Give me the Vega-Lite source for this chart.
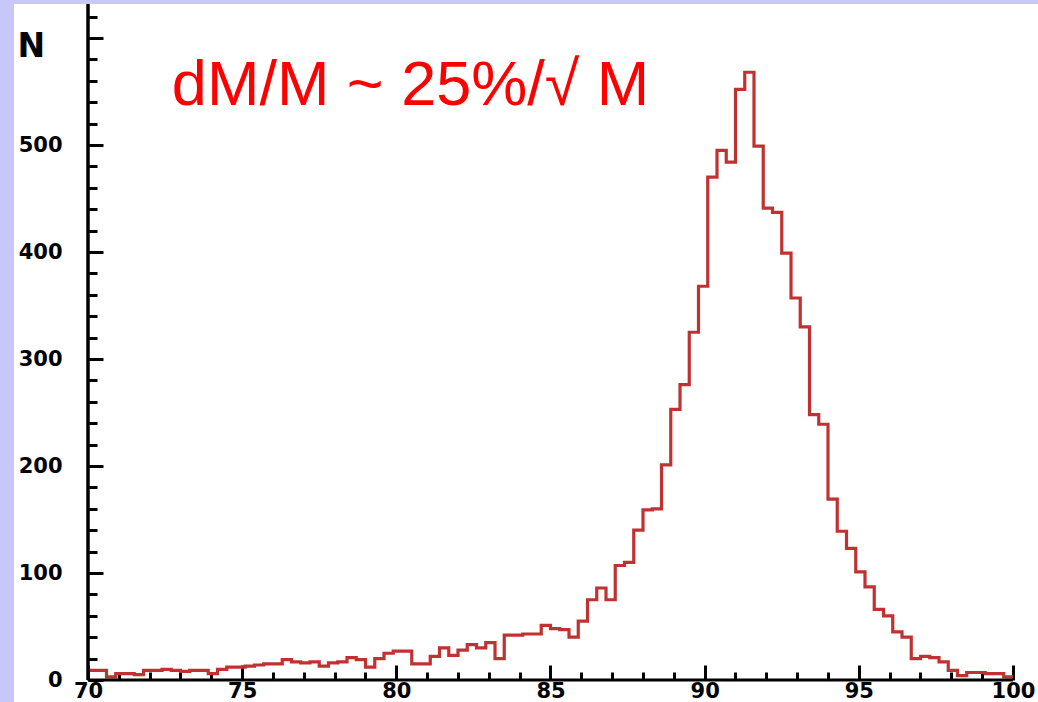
{
  "$schema": "https://vega.github.io/schema/vega-lite/v6.json",
  "width": 1024,
  "height": 698,
  "autosize": {"type": "none"},
  "padding": {"left": 14, "top": 4, "right": 0, "bottom": 0},
  "background": "#c8c8f8",
  "config": {
    "view": {"fill": "white", "stroke": null},
    "axis": {
      "domain": false,
      "grid": false,
      "tickColor": "black",
      "tickWidth": 3,
      "labelColor": "black",
      "labelFont": "DejaVu Sans",
      "labelFontWeight": "bold",
      "titleColor": "black"
    }
  },
  "data": {
    "values": [
      {"lo": 70.0, "hi": 70.3, "n": 9}, {"lo": 70.3, "hi": 70.6, "n": 9}, {"lo": 70.6, "hi": 70.9, "n": 3},
      {"lo": 70.9, "hi": 71.2, "n": 6}, {"lo": 71.2, "hi": 71.5, "n": 6}, {"lo": 71.5, "hi": 71.8, "n": 5},
      {"lo": 71.8, "hi": 72.1, "n": 9}, {"lo": 72.1, "hi": 72.4, "n": 9}, {"lo": 72.4, "hi": 72.7, "n": 10},
      {"lo": 72.7, "hi": 73.0, "n": 9}, {"lo": 73.0, "hi": 73.3, "n": 8}, {"lo": 73.3, "hi": 73.6, "n": 9},
      {"lo": 73.6, "hi": 73.9, "n": 9}, {"lo": 73.9, "hi": 74.2, "n": 6}, {"lo": 74.2, "hi": 74.5, "n": 10},
      {"lo": 74.5, "hi": 74.8, "n": 12}, {"lo": 74.8, "hi": 75.1, "n": 12}, {"lo": 75.1, "hi": 75.4, "n": 13},
      {"lo": 75.4, "hi": 75.7, "n": 14}, {"lo": 75.7, "hi": 76.0, "n": 15}, {"lo": 76.0, "hi": 76.3, "n": 15},
      {"lo": 76.3, "hi": 76.6, "n": 19}, {"lo": 76.6, "hi": 76.9, "n": 17}, {"lo": 76.9, "hi": 77.2, "n": 16},
      {"lo": 77.2, "hi": 77.5, "n": 17}, {"lo": 77.5, "hi": 77.8, "n": 13}, {"lo": 77.8, "hi": 78.1, "n": 16},
      {"lo": 78.1, "hi": 78.4, "n": 17}, {"lo": 78.4, "hi": 78.7, "n": 21}, {"lo": 78.7, "hi": 79.0, "n": 19},
      {"lo": 79.0, "hi": 79.3, "n": 12}, {"lo": 79.3, "hi": 79.6, "n": 20}, {"lo": 79.6, "hi": 79.9, "n": 25},
      {"lo": 79.9, "hi": 80.2, "n": 27}, {"lo": 80.2, "hi": 80.5, "n": 27}, {"lo": 80.5, "hi": 80.8, "n": 15},
      {"lo": 80.8, "hi": 81.1, "n": 15}, {"lo": 81.1, "hi": 81.4, "n": 22}, {"lo": 81.4, "hi": 81.7, "n": 30},
      {"lo": 81.7, "hi": 82.0, "n": 23}, {"lo": 82.0, "hi": 82.3, "n": 28}, {"lo": 82.3, "hi": 82.6, "n": 33},
      {"lo": 82.6, "hi": 82.9, "n": 30}, {"lo": 82.9, "hi": 83.2, "n": 35}, {"lo": 83.2, "hi": 83.5, "n": 20},
      {"lo": 83.5, "hi": 83.8, "n": 42}, {"lo": 83.8, "hi": 84.1, "n": 42}, {"lo": 84.1, "hi": 84.4, "n": 43},
      {"lo": 84.4, "hi": 84.7, "n": 43}, {"lo": 84.7, "hi": 85.0, "n": 51}, {"lo": 85.0, "hi": 85.3, "n": 48},
      {"lo": 85.3, "hi": 85.6, "n": 47}, {"lo": 85.6, "hi": 85.9, "n": 40}, {"lo": 85.9, "hi": 86.2, "n": 55},
      {"lo": 86.2, "hi": 86.5, "n": 75}, {"lo": 86.5, "hi": 86.8, "n": 86}, {"lo": 86.8, "hi": 87.1, "n": 75},
      {"lo": 87.1, "hi": 87.4, "n": 107}, {"lo": 87.4, "hi": 87.7, "n": 110}, {"lo": 87.7, "hi": 88.0, "n": 140},
      {"lo": 88.0, "hi": 88.3, "n": 159}, {"lo": 88.3, "hi": 88.6, "n": 160}, {"lo": 88.6, "hi": 88.9, "n": 201},
      {"lo": 88.9, "hi": 89.2, "n": 253}, {"lo": 89.2, "hi": 89.5, "n": 276}, {"lo": 89.5, "hi": 89.8, "n": 325},
      {"lo": 89.8, "hi": 90.1, "n": 368}, {"lo": 90.1, "hi": 90.4, "n": 470}, {"lo": 90.4, "hi": 90.7, "n": 495},
      {"lo": 90.7, "hi": 91.0, "n": 484}, {"lo": 91.0, "hi": 91.3, "n": 552}, {"lo": 91.3, "hi": 91.6, "n": 568},
      {"lo": 91.6, "hi": 91.9, "n": 499}, {"lo": 91.9, "hi": 92.2, "n": 441}, {"lo": 92.2, "hi": 92.5, "n": 437},
      {"lo": 92.5, "hi": 92.8, "n": 399}, {"lo": 92.8, "hi": 93.1, "n": 357}, {"lo": 93.1, "hi": 93.4, "n": 330},
      {"lo": 93.4, "hi": 93.7, "n": 248}, {"lo": 93.7, "hi": 94.0, "n": 239}, {"lo": 94.0, "hi": 94.3, "n": 169},
      {"lo": 94.3, "hi": 94.6, "n": 139}, {"lo": 94.6, "hi": 94.9, "n": 123}, {"lo": 94.9, "hi": 95.2, "n": 101},
      {"lo": 95.2, "hi": 95.5, "n": 87}, {"lo": 95.5, "hi": 95.8, "n": 66}, {"lo": 95.8, "hi": 96.1, "n": 60},
      {"lo": 96.1, "hi": 96.4, "n": 45}, {"lo": 96.4, "hi": 96.7, "n": 40}, {"lo": 96.7, "hi": 97.0, "n": 20},
      {"lo": 97.0, "hi": 97.3, "n": 22}, {"lo": 97.3, "hi": 97.6, "n": 21}, {"lo": 97.6, "hi": 97.9, "n": 17},
      {"lo": 97.9, "hi": 98.2, "n": 9}, {"lo": 98.2, "hi": 98.5, "n": 4}, {"lo": 98.5, "hi": 98.8, "n": 7},
      {"lo": 98.8, "hi": 99.1, "n": 7}, {"lo": 99.1, "hi": 99.4, "n": 6}, {"lo": 99.4, "hi": 99.7, "n": 6},
      {"lo": 99.7, "hi": 100.0, "n": 3}
    ]
  },
  "resolve": {"axis": {"x": "independent", "y": "independent"}},
  "layer": [
    {
      "transform": [{"fold": ["lo", "hi"], "as": ["edge", "mass"]}],
      "mark": {"type": "line", "color": "#c03232", "strokeWidth": 3.2},
      "encoding": {
        "x": {
          "field": "mass", "type": "quantitative",
          "scale": {"domain": [67.6, 100.811], "nice": false, "zero": false},
          "axis": {
            "orient": "bottom", "offset": -22, "title": null,
            "values": [70, 75, 80, 85, 90, 95, 100],
            "tickSize": -15, "labelPadding": 15.5, "labelBaseline": "top",
            "labelFontSize": 21,
            "labelOverlap": false, "labelFlush": false, "format": "d"
          }
        },
        "y": {
          "field": "n", "type": "quantitative",
          "scale": {"domain": [-20.56, 631.78], "nice": false, "zero": false},
          "axis": {
            "orient": "left", "offset": -74,
            "values": [0, 100, 200, 300, 400, 500, 600],
            "tickSize": -15, "labelPadding": 41, "labelFontSize": 21,
            "labelOverlap": false, "labelFlush": false,
            "labelExpr": "datum.value == 600 ? '' : datum.label",
            "title": "N", "titleAngle": 0, "titleAlign": "left", "titleBaseline": "alphabetic",
            "titleX": -71, "titleY": 52,
            "titleFont": "DejaVu Sans", "titleFontWeight": "bold", "titleFontSize": 33
          }
        },
        "order": [{"field": "mass"}, {"field": "edge"}]
      }
    },
    {
      "data": {"values": [{}]},
      "mark": {"type": "rule", "color": "black", "strokeWidth": 3.5},
      "encoding": {
        "x": {
          "datum": 70, "type": "quantitative",
          "scale": {"domain": [67.6, 100.811], "nice": false, "zero": false},
          "axis": {
            "orient": "bottom", "offset": -22, "title": null, "labels": false,
            "values": [71, 72, 73, 74, 76, 77, 78, 79, 81, 82, 83, 84, 86, 87, 88, 89, 91, 92, 93, 94, 96, 97, 98, 99],
            "tickSize": -8
          }
        },
        "y": {
          "datum": 0, "type": "quantitative",
          "scale": {"domain": [-20.56, 631.78], "nice": false, "zero": false},
          "axis": {
            "orient": "left", "offset": -74, "title": null, "labels": false,
            "values": [20, 40, 60, 80, 120, 140, 160, 180, 220, 240, 260, 280, 320, 340, 360, 380, 420, 440, 460, 480, 520, 540, 560, 580, 620],
            "tickSize": -9
          }
        },
        "y2": {"datum": 631.78}
      }
    },
    {
      "data": {"values": [{}]},
      "mark": {"type": "rule", "color": "black", "strokeWidth": 3},
      "encoding": {
        "x": {"datum": 70, "type": "quantitative", "scale": {"domain": [67.6, 100.811], "nice": false, "zero": false}, "axis": null},
        "x2": {"datum": 100},
        "y": {"datum": 0, "type": "quantitative", "scale": {"domain": [-20.56, 631.78], "nice": false, "zero": false}, "axis": null}
      }
    },
    {
      "data": {"values": [{"note": "dM/M ~ 25%/√ M"}]},
      "mark": {"type": "text", "font": "Liberation Sans", "fontSize": 63, "color": "#ff0000", "align": "left", "baseline": "alphabetic"},
      "encoding": {
        "x": {"datum": 72.72, "type": "quantitative", "scale": {"domain": [67.6, 100.811], "nice": false, "zero": false}, "axis": null},
        "y": {"datum": 537.4, "type": "quantitative", "scale": {"domain": [-20.56, 631.78], "nice": false, "zero": false}, "axis": null},
        "text": {"field": "note"}
      }
    }
  ]
}
